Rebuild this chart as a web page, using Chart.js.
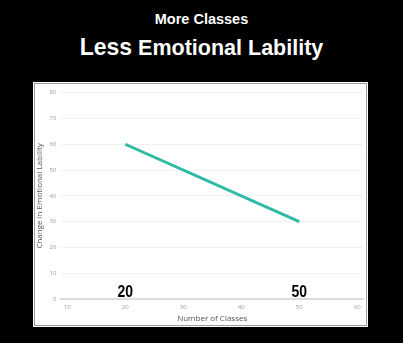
<!DOCTYPE html>
<html>
<head>
<meta charset="utf-8">
<script src="https://cdn.jsdelivr.net/npm/chart.js@4/dist/chart.umd.min.js"></script>
<style>
  html, body { margin:0; padding:0; background:#000; width:403px; height:343px; overflow:hidden; }
  #h1 { position:absolute; left:0; width:403px; top:11px; text-align:center; color:#fff;
        font-family:"Liberation Sans", Arial, sans-serif; font-weight:bold; font-size:14.5px; line-height:17px; }
  #h2 { position:absolute; left:0; width:403px; top:34px; text-align:center; color:#fff;
        font-family:"Liberation Sans", Arial, sans-serif; font-weight:bold; font-size:21.5px; line-height:26px; }
  #h2 .big { font-size:23px; }
  #panel { position:absolute; left:33px; top:82px; width:335px; height:245px; background:#fff; box-sizing:border-box;
           border:1px solid #fff; }
  #inner { position:absolute; left:0; top:0; right:0; bottom:0; border:1px solid #9a9a9a; }
  #c { position:absolute; left:0; top:0; }
</style>
</head>
<body>
<div id="h1">More Classes</div>
<div id="h2"><span class="big">Less</span> Emotional Lability</div>
<div id="panel"><div id="inner"><canvas id="c" width="331" height="241"></canvas></div></div>
<script>
const xValues = [20, 50];
const yValues = [60, 30];
const xTicks = [10, 20, 30, 40, 50, 60];
const markerLabels = ["20", "50"];
const xTitle = "Number of Classes";
const yTitle = "Change in Emotional Lability";

const markerPlugin = {
  id: 'markers',
  afterDatasetsDraw(chart) {
    const ctx = chart.ctx;
    const xs = chart.scales.x, ys = chart.scales.y;
    ctx.save();
    ctx.fillStyle = '#000';
    ctx.font = 'bold 17px "Liberation Sans Narrow", "Arial Narrow", "Liberation Sans", sans-serif';
    ctx.textAlign = 'center';
    ctx.textBaseline = 'alphabetic';
    xValues.forEach((v, i) => {
      const px = xs.getPixelForValue(v), py = ys.getPixelForValue(0) - 2;
      ctx.save();
      ctx.translate(px, py);
      ctx.scale(0.82, 1);
      ctx.fillText(markerLabels[i], 0, 0);
      ctx.restore();
    });
    ctx.restore();
  }
};

new Chart(document.getElementById('c'), {
  type: 'line',
  data: {
    datasets: [{
      data: xValues.map((x, i) => ({ x: x, y: yValues[i] })),
      borderColor: '#2dbba3',
      borderWidth: 3,
      pointRadius: 0,
      fill: false,
      tension: 0
    }]
  },
  options: {
    responsive: false,
    animation: false,
    layout: { padding: { left: 0, right: 3, top: 3, bottom: 1 } },
    plugins: { legend: { display: false }, tooltip: { enabled: false } },
    scales: {
      x: {
        type: 'linear',
        min: 9,
        max: 61,
        afterBuildTicks(scale) { scale.ticks = xTicks.map(v => ({ value: v })); },
        grid: { display: false, drawTicks: false },
        border: { display: true, color: '#dcdcdc', width: 2 },
        ticks: { color: '#999', font: { size: 6, family: '"Open Sans", sans-serif' }, padding: 4, maxRotation: 0 },
        title: { display: true, text: xTitle, color: '#555', font: { size: 8, family: '"Open Sans", sans-serif' }, padding: { top: 0, bottom: 0 } }
      },
      y: {
        min: 0,
        max: 80,
        ticks: { stepSize: 10, color: '#999', font: { size: 6, family: '"Open Sans", sans-serif' }, padding: 5 },
        grid: { color: '#f0f0f0', drawTicks: false, lineWidth: 1 },
        border: { display: false },
        title: { display: true, text: yTitle, color: '#555', font: { size: 8, family: '"Open Sans", sans-serif' }, padding: { top: 0, bottom: 0 } }
      }
    }
  },
  plugins: [markerPlugin]
});
</script>
</body>
</html>
